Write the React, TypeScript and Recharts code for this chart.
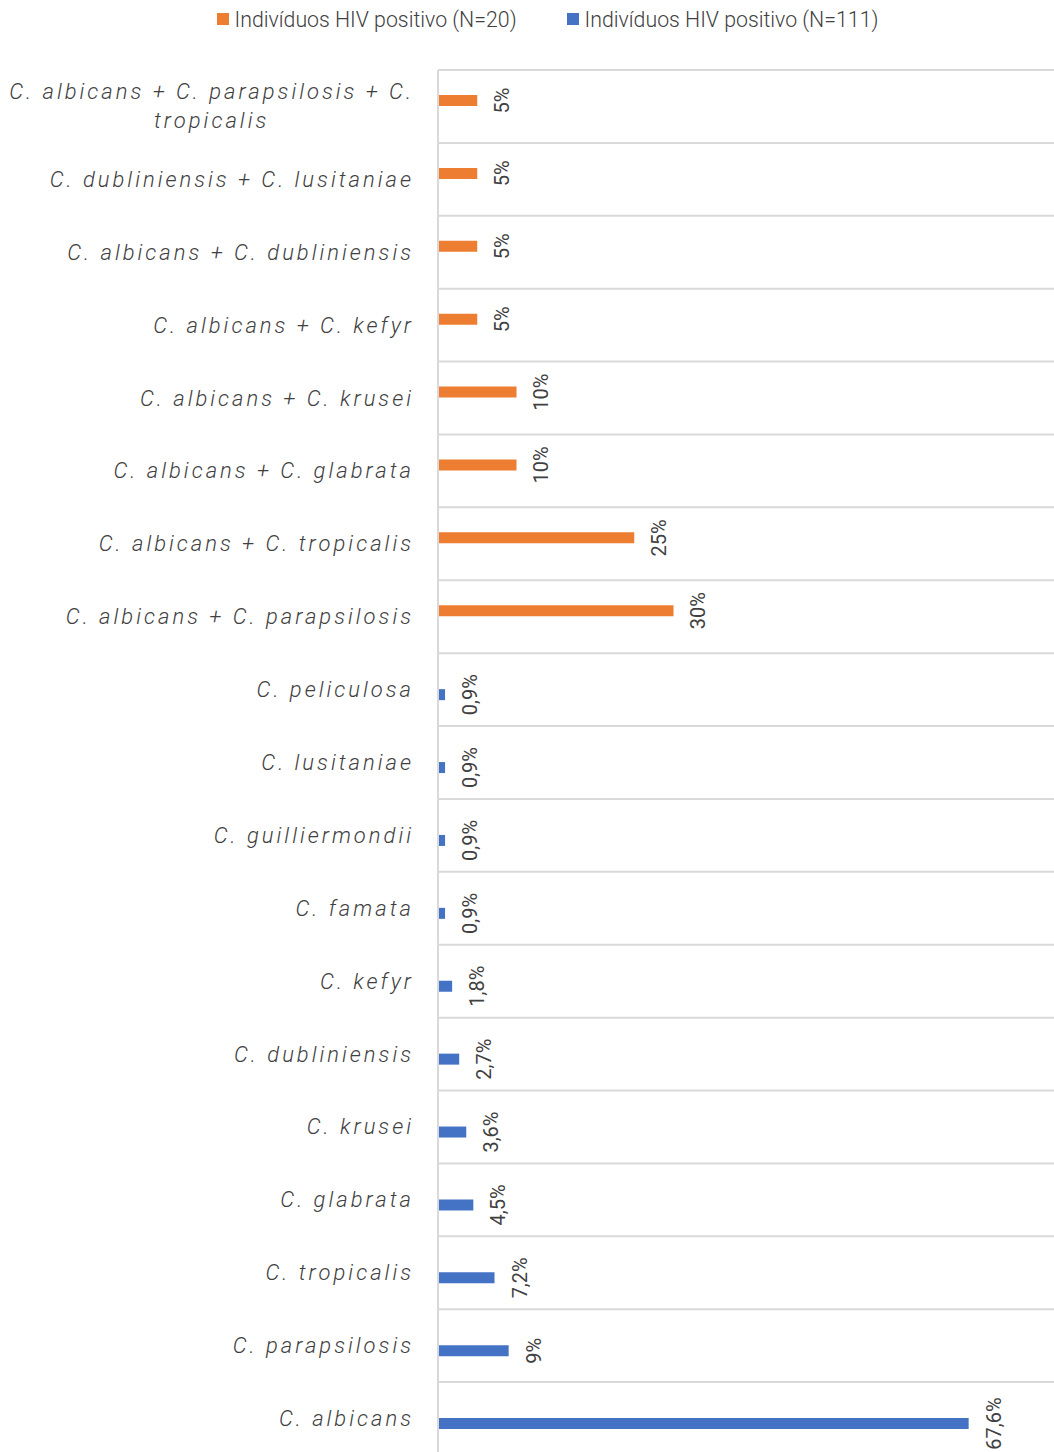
import React from "react";
import { BarChart, Bar, XAxis, YAxis, CartesianGrid, Legend, LabelList } from "recharts";

// categories top -> bottom
const categories = [
  "C. albicans + C. parapsilosis + C. tropicalis",
  "C. dubliniensis + C. lusitaniae",
  "C. albicans + C. dubliniensis",
  "C. albicans + C. kefyr",
  "C. albicans + C. krusei",
  "C. albicans + C. glabrata",
  "C. albicans + C. tropicalis",
  "C. albicans + C. parapsilosis",
  "C. peliculosa",
  "C. lusitaniae",
  "C. guilliermondii",
  "C. famata",
  "C. kefyr",
  "C. dubliniensis",
  "C. krusei",
  "C. glabrata",
  "C. tropicalis",
  "C. parapsilosis",
  "C. albicans",
];
const hiv20 = [5, 5, 5, 5, 10, 10, 25, 30, null, null, null, null, null, null, null, null, null, null, null];
const hiv111 = [null, null, null, null, null, null, null, null, 0.9, 0.9, 0.9, 0.9, 1.8, 2.7, 3.6, 4.5, 7.2, 9, 67.6];
const seriesNames = ["Indivíduos HIV positivo (N=20)", "Indivíduos HIV positivo (N=111)"];
const xMax = 80;

const ORANGE = "#ED7D31";
const BLUE = "#4472C4";
const GRID = "#d9d9d9";
const TEXT = "#404040";
const FONT = "Roboto, 'Open Sans', sans-serif";
const TICK_SIZE = 22;
const TICK_SPACING = 3;

const data = categories.map((name, i) => ({ name, hiv20: hiv20[i], hiv111: hiv111[i] }));

let ctx: CanvasRenderingContext2D | null = null;
function measure(s: string) {
  if (!ctx) ctx = document.createElement("canvas").getContext("2d");
  if (!ctx) return s.length * 13;
  ctx.font = `italic 300 ${TICK_SIZE}px Roboto`;
  return ctx.measureText(s).width + s.length * TICK_SPACING;
}

function wrap(label: string, maxW: number) {
  const lines: string[] = [];
  let cur = "";
  for (const w of label.split(" ")) {
    const test = cur ? cur + " " + w : w;
    if (cur && measure(test) > maxW) {
      lines.push(cur);
      cur = w;
    } else cur = test;
  }
  lines.push(cur);
  return lines;
}

function CategoryTick(props: any) {
  const { x, y, payload } = props;
  const lines = wrap(payload.value, 408);
  const style = {
    fontFamily: FONT, fontSize: TICK_SIZE, fontStyle: "italic", fontWeight: 300,
    letterSpacing: TICK_SPACING, fill: TEXT,
  };
  if (lines.length === 1) {
    return (
      <text x={x} y={y} textAnchor="end" dominantBaseline="central" style={style}>
        {payload.value}
      </text>
    );
  }
  const blockW = Math.max(...lines.map(measure));
  const cx = x - blockW / 2;
  return (
    <g>
      {lines.map((l, i) => (
        <text key={i} x={cx} y={y + (i - (lines.length - 1) / 2) * 29}
          textAnchor="middle" dominantBaseline="central" style={style}>
          {l}
        </text>
      ))}
    </g>
  );
}

const fmt = (v: number) => String(v).replace(".", ",") + "%";

function ValueLabel(props: any) {
  const { x, y, width, height, value } = props;
  if (value == null) return null;
  const lx = x + width + 25;
  const ly = y + height / 2;
  return (
    <text x={lx} y={ly} transform={`rotate(-90, ${lx}, ${ly})`} textAnchor="middle"
      dominantBaseline="central" style={{ fontFamily: FONT, fontSize: 20, fill: TEXT }}>
      {fmt(value)}
    </text>
  );
}

function LegendBox() {
  const colors = [ORANGE, BLUE];
  return (
    <div style={{
      height: 70, display: "flex", justifyContent: "center", paddingLeft: 29, gap: 50,
      boxSizing: "border-box", fontFamily: FONT, fontSize: 21.3, fontWeight: 300, color: TEXT,
    }}>
      {seriesNames.map((n, i) => (
        <span key={n} style={{ display: "flex", alignItems: "center", height: 38 }}>
          <span style={{ width: 12, height: 12, background: colors[i], marginRight: 6 }} />
          {n}
        </span>
      ))}
    </div>
  );
}

export default function App() {
  const n = categories.length;
  return (
    <div style={{ width: 1054, height: 1452, overflow: "hidden", background: "#fff" }}>
      <style>{`body{margin:0}`}</style>
      <BarChart width={1066} height={1455} data={data} layout="vertical"
        margin={{ top: 0, right: 0, left: 0, bottom: 0 }} barGap={0} barSize={11}>
        <CartesianGrid vertical={false} stroke={GRID} strokeWidth={2}
          horizontalCoordinatesGenerator={({ offset }: any) =>
            Array.from({ length: n + 1 }, (_, i) => offset.top + (i * offset.height) / n)} />
        <XAxis type="number" domain={[0, xMax]} hide />
        <YAxis type="category" dataKey="name" width={438} interval={0} tickLine={false}
          tickSize={0} tickMargin={24} axisLine={{ stroke: GRID, strokeWidth: 2 }}
          tick={<CategoryTick />} />
        <Legend verticalAlign="top" content={() => <LegendBox />} />
        <Bar dataKey="hiv20" name={seriesNames[0]} fill={ORANGE} isAnimationActive={false}>
          <LabelList dataKey="hiv20" content={<ValueLabel />} />
        </Bar>
        <Bar dataKey="hiv111" name={seriesNames[1]} fill={BLUE} isAnimationActive={false}>
          <LabelList dataKey="hiv111" content={<ValueLabel />} />
        </Bar>
      </BarChart>
    </div>
  );
}
